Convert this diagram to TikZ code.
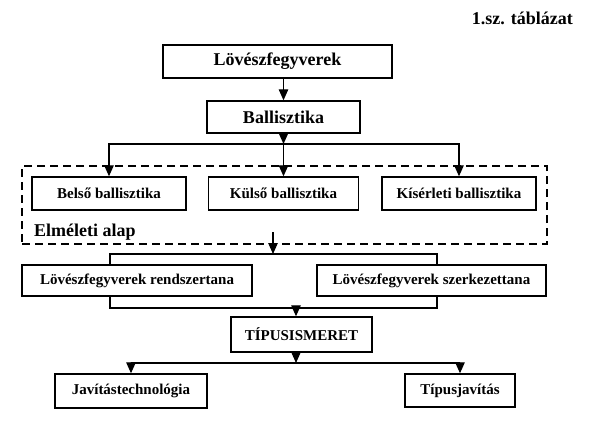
\documentclass[tikz,border=0pt]{standalone}
\usepackage{fontspec}
\setmainfont{Liberation Serif}
\usetikzlibrary{arrows.meta}

\begin{document}
\begin{tikzpicture}[
  x=1pt, y=-1pt,
  block/.style={rectangle, draw, line width=1.4pt, align=center, inner sep=0pt, font=\fontsize{15}{17}\selectfont\bfseries},
  bigblock/.style={block, font=\fontsize{18}{20}\selectfont\bfseries},
  frame/.style={rectangle, draw, line width=2pt, dash pattern=on 8pt off 5pt, inner sep=0pt},
  arrow/.style={-{Triangle[length=11pt,width=9.5pt]}, line width=1.2pt},
  link/.style={line width=1.2pt}
]
  \useasboundingbox (0,0) rectangle (595,424);

  % Title
  \node[anchor=east, inner sep=0pt, font=\fontsize{18}{20}\selectfont\bfseries] (title) at (573,18) {1.sz. táblázat};

  % Main components
  \node[bigblock, minimum width=229pt, minimum height=33pt] (weapons) at (277.5,61.5) {Lövészfegyverek};
  \node[bigblock, minimum width=153pt, minimum height=32pt] (ballistics) at (283.5,117) {Ballisztika};

  % Theory frame
  \node[frame, minimum width=525pt, minimum height=78pt] (theory) at (284.5,205) {};
  \node[anchor=west, inner sep=0pt, font=\fontsize{18}{20}\selectfont\bfseries] (theorylabel) at (34,232) {Elméleti alap};
  \node[block, minimum width=154pt, minimum height=33pt] (internal) at (109,193.5) {Belső ballisztika};
  \node[block, minimum width=150pt, minimum height=33pt] (external) at (283.5,193.5) {Külső ballisztika};
  \node[block, minimum width=154pt, minimum height=33pt] (experimental) at (459,193.5) {Kísérleti ballisztika};

  % Lower components
  \node[block, minimum width=230pt, minimum height=31pt] (system) at (137,280.5) {Lövészfegyverek rendszertana};
  \node[block, minimum width=229pt, minimum height=31pt] (structure) at (431.5,280.5) {Lövészfegyverek szerkezettana};
  \node[block, minimum width=141pt, minimum height=35pt] (types) at (301.5,334.5) {TÍPUSISMERET};
  \node[block, minimum width=152pt, minimum height=34pt] (repairtech) at (131,391) {Javítástechnológia};
  \node[block, minimum width=110pt, minimum height=33pt] (typerepair) at (460,390.5) {Típusjavítás};

  % Helper points
  \coordinate (split1) at (283.5,144);
  \coordinate (split2) at (273,254);
  \coordinate (left2) at (110,254);
  \coordinate (right2) at (437,254);
  \coordinate (merge) at (296,308);
  \coordinate (split3) at (296,363);

  % Connections
  \draw[arrow] (ballistics.north |- weapons.south) -- (ballistics);
  \draw[arrow] (ballistics) -- (split1);
  \draw[arrow] (split1) -| (internal);
  \draw[arrow] (split1) -- (external);
  \draw[arrow] (split1) -| (experimental);
  \draw[arrow] (split2 |- theorylabel) -- (split2);
  \draw[link] (system.north -| left2) -- (left2) -- (right2) -- (structure.north -| right2);
  \draw[link] (system.south -| left2) -- (left2 |- merge) -- (right2 |- merge) -- (structure.south -| right2);
  \draw[arrow] (merge) -- (merge |- types.north);
  \draw[arrow] (merge |- types.south) -- (split3);
  \draw[arrow] (split3) -| (repairtech);
  \draw[arrow] (split3) -| (typerepair);
\end{tikzpicture}
\end{document}
